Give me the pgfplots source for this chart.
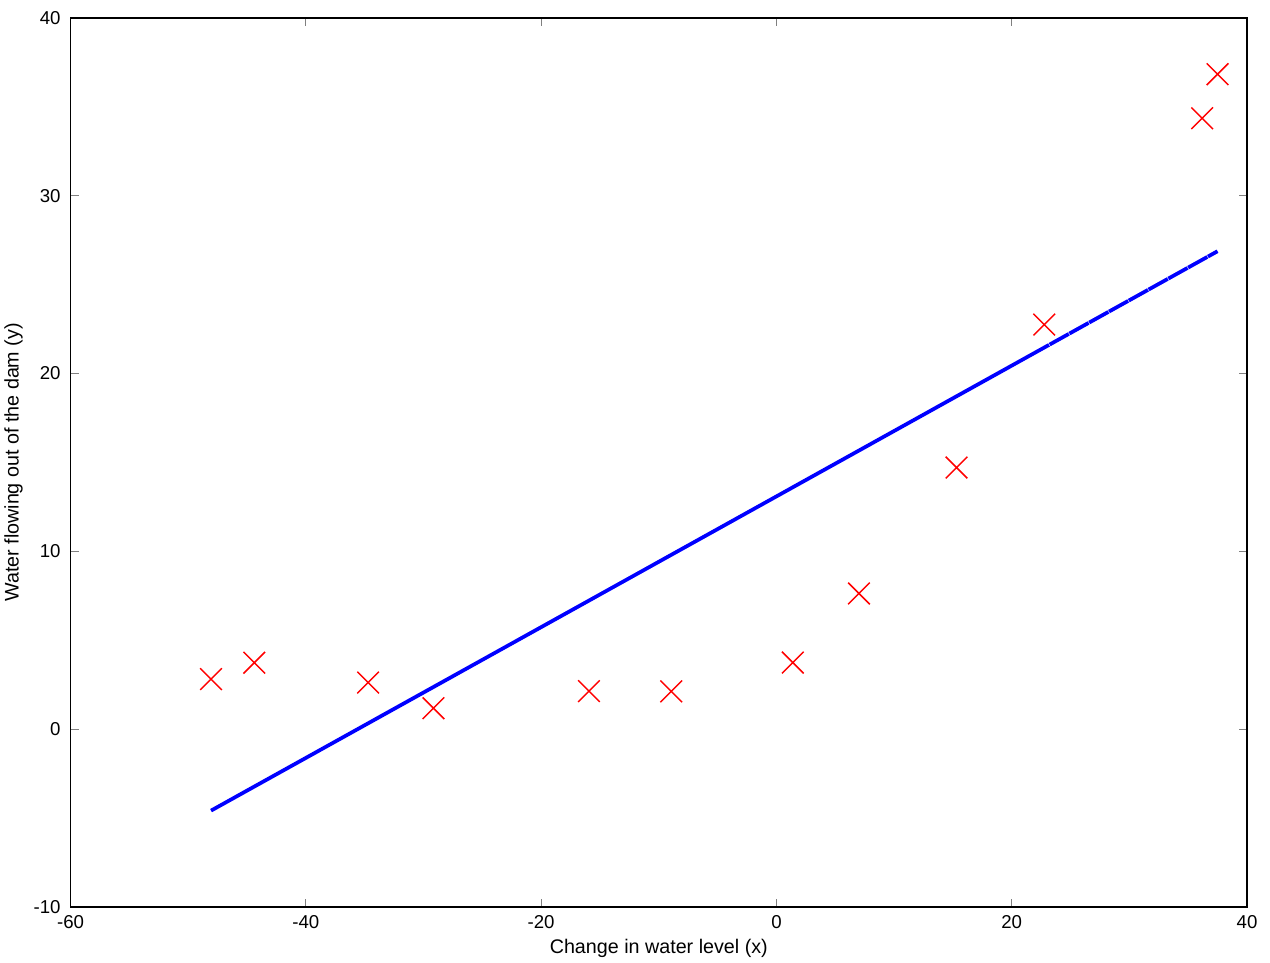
\documentclass[border=0pt]{standalone}
\usepackage{pgfplots}
\pgfplotsset{compat=1.18}
\usepackage{fontspec}
\setmainfont{Liberation Sans}
\begin{document}
\begin{tikzpicture}
\begin{axis}[
  at={(0,0)}, anchor=south west,
  scale only axis,
  width=883.5pt, height=667.5pt,
  xmin=-60, xmax=40, ymin=-10, ymax=40,
  xtick={-60,-40,...,40}, ytick={-10,0,...,40},
  tick align=inside,
  major tick length=6pt,
  tick style={gray, line width=0.8pt},
  axis line style={black, line width=1.1pt},
  ticklabel style={font=\fontsize{14pt}{16pt}\selectfont},
  xticklabel style={yshift=-3pt},
  yticklabel style={xshift=-4pt},
  /pgf/number format/assume math mode=true,
  label style={font=\fontsize{14.8pt}{17pt}\selectfont},
  xlabel={Change in water level (x)},
  ylabel={Water flowing out of the dam (y)},
  xlabel style={at={([yshift=-31.5pt]axis description cs:0.5,0)}, anchor=center},
  ylabel style={at={([xshift=-42.75pt]axis description cs:0,0.5)}, anchor=center},
  clip=false,
]
\addplot[only marks, mark=x, mark size=11.5pt, mark options={red, line width=1.1pt}] coordinates {
(-15.9368,2.1343) (-29.1530,1.1733) (36.1895,34.3591) (37.4922,36.8380)
(-48.0588,2.8090) (-8.9415,2.1211) (15.3078,14.7103) (-34.7063,2.6142)
(1.3892,3.7402) (-44.3838,3.7317) (7.0135,7.6277) (22.7627,22.7524)
};
\addplot[blue, line width=2.8pt, dash pattern=on 15pt off 2pt] coordinates {
(-15.9368,7.2263) (-29.1530,2.3654) (36.1895,26.3984) (37.4922,26.8775)
(-48.0588,-4.5881) (-8.9415,9.7992) (15.3078,18.7181) (-34.7063,0.3229)
(1.3892,13.5988) (-44.3838,-3.2365) (7.0135,15.6675) (22.7627,21.4600)
};
\end{axis}
\path (-51.75pt,-37.5pt) rectangle (900.75pt,681pt);
\end{tikzpicture}
\end{document}
